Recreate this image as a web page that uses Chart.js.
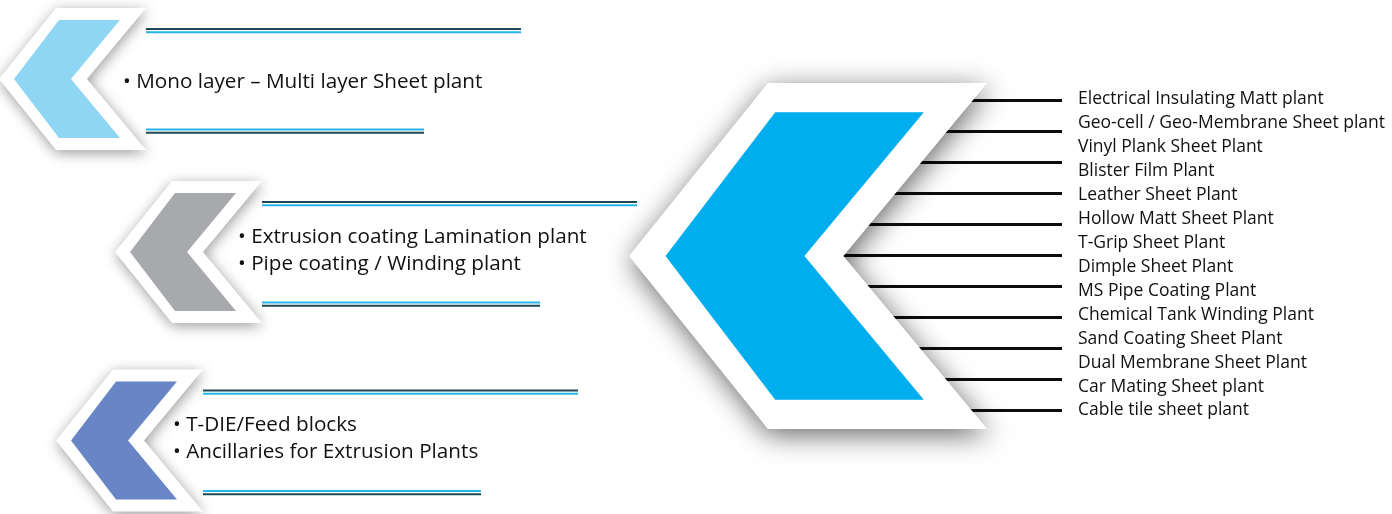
<!DOCTYPE html>
<html>
<head>
<meta charset="utf-8">
<script src="https://cdn.jsdelivr.net/npm/chart.js@4.4.1/dist/chart.umd.min.js"></script>
<style>
  html, body { margin: 0; padding: 0; background: #ffffff; }
  #board { display: block; }
</style>
</head>
<body>
<canvas id="board" width="1392" height="514"></canvas>
<script>
const mainItems = [
  'Electrical Insulating Matt plant',
  'Geo-cell / Geo-Membrane Sheet plant',
  'Vinyl Plank Sheet Plant',
  'Blister Film Plant',
  'Leather Sheet Plant',
  'Hollow Matt Sheet Plant',
  'T-Grip Sheet Plant',
  'Dimple Sheet Plant',
  'MS Pipe Coating Plant',
  'Chemical Tank Winding Plant',
  'Sand Coating Sheet Plant',
  'Dual Membrane Sheet Plant',
  'Car Mating Sheet plant',
  'Cable tile sheet plant'
];
const monoItems = ['Mono layer – Multi layer Sheet plant'];
const coatingItems = ['Extrusion coating Lamination plant', 'Pipe coating / Winding plant'];
const dieItems = ['T-DIE/Feed blocks', 'Ancillaries for Extrusion Plants'];
const connectorCount = 11;

const COLORS = {
  main: '#00aeef',
  mono: '#8fd6f4',
  coating: '#a7a9ac',
  die: '#6886c5',
  frame: '#ffffff',
  rule: '#0d0d0d',
  railDark: '#1f4753',
  railBlue: '#27b4e9',
  text: '#111111'
};

// chevron outlines, in units where the half height is 71
const OUTER = [[0, 0], [57, -71], [147, -71], [88, 0], [147, 71], [57, 71]];
const INNER = [[15, 0], [60, -59], [121, -59], [72, 0], [121, 59], [60, 59]];

const SMALL = [
  { items: monoItems, color: COLORS.mono, left: -1, cy: 79, textX: 124, textY: 3 },
  { items: coatingItems, color: COLORS.coating, left: 115, cy: 252, textX: 123, textY: -15 },
  { items: dieItems, color: COLORS.die, left: 56, cy: 440.5, textX: 117, textY: -15.5 }
];
const BIG = { left: 629, cy: 256, scale: 173 / 71 };
const RULES = { x0: 835, x1: 1062, top: 100.5, bottom: 410.5 };
const LIST = { x: 1078, top: 99.5, bottom: 410.5 };

function outline(shape, left, cy, scale) {
  const pts = shape.map(([dx, dy]) => ({ x: left + dx * scale, y: cy + dy * scale }));
  pts.push(pts[0]);
  return pts;
}

function polygon(points, color, shadow) {
  return {
    type: 'scatter',
    data: points,
    showLine: true,
    fill: 'shape',
    backgroundColor: color,
    borderWidth: 0,
    borderColor: color,
    pointRadius: 0,
    tension: 0,
    shadow
  };
}

function segment(x0, x1, y, color, width) {
  return {
    type: 'scatter',
    data: [{ x: x0, y }, { x: x1, y }],
    showLine: true,
    fill: false,
    borderColor: color,
    borderWidth: width,
    pointRadius: 0,
    borderCapStyle: 'butt'
  };
}

// paint order: first entry lies at the bottom
const layers = [];

for (let i = 0; i < connectorCount; i++) {
  const y = RULES.top + (RULES.bottom - RULES.top) * i / (connectorCount - 1);
  layers.push(segment(RULES.x0, RULES.x1, y, COLORS.rule, 3));
}

SMALL.forEach((g) => {
  const x0 = g.left + 147;
  const top = g.cy - 71;
  const bottom = g.cy + 71;
  layers.push(segment(x0, x0 + 375, top + 21, COLORS.railDark, 2));
  layers.push(segment(x0, x0 + 375, top + 24.3, COLORS.railBlue, 2));
  layers.push(segment(x0, x0 + 278, bottom - 20.5, COLORS.railBlue, 2));
  layers.push(segment(x0, x0 + 278, bottom - 17.2, COLORS.railDark, 2));
});

SMALL.forEach((g) => {
  layers.push(polygon(outline(OUTER, g.left, g.cy, 1), COLORS.frame, { blur: 14, dx: 1, dy: 3, alpha: 0.4 }));
  layers.push(polygon(outline(INNER, g.left, g.cy, 1), g.color, null));
});

layers.push(polygon(outline(OUTER, BIG.left, BIG.cy, BIG.scale), COLORS.frame, { blur: 28, dx: 2, dy: 6, alpha: 0.6 }));
layers.push(polygon(outline(INNER, BIG.left, BIG.cy, BIG.scale), COLORS.main, null));

function clearShadow(ctx) {
  ctx.shadowColor = 'rgba(0,0,0,0)';
  ctx.shadowBlur = 0;
  ctx.shadowOffsetX = 0;
  ctx.shadowOffsetY = 0;
}

function setShadow(chart, meta) {
  const ctx = chart.ctx;
  const ds = meta ? chart.data.datasets[meta.index] : null;
  if (!ds || !ds.shadow) {
    clearShadow(ctx);
    return;
  }
  ctx.shadowColor = `rgba(0,0,0,${ds.shadow.alpha})`;
  ctx.shadowBlur = ds.shadow.blur;
  ctx.shadowOffsetX = ds.shadow.dx;
  ctx.shadowOffsetY = ds.shadow.dy;
}

// the filler paints a shape before our own beforeDatasetDraw runs,
// so the shadow is switched on right after the previous layer
const shadowPlugin = {
  id: 'chevronShadow',
  beforeDatasetsDraw(chart) {
    const metas = chart.getSortedVisibleDatasetMetas();
    setShadow(chart, metas[metas.length - 1]);
  },
  beforeDatasetDraw(chart) {
    clearShadow(chart.ctx);
  },
  afterDatasetDraw(chart, args) {
    const metas = chart.getSortedVisibleDatasetMetas();
    const pos = metas.indexOf(args.meta);
    setShadow(chart, metas[pos - 1]);
  },
  afterDatasetsDraw(chart) {
    clearShadow(chart.ctx);
  }
};

const labelPlugin = {
  id: 'labels',
  afterDatasetsDraw(chart) {
    const { ctx, scales: { x, y } } = chart;
    ctx.save();
    ctx.fillStyle = COLORS.text;
    ctx.textBaseline = 'middle';
    ctx.textAlign = 'left';

    ctx.font = '500 20.7px "Open Sans", sans-serif';
    SMALL.forEach((g) => {
      g.items.forEach((item, i) => {
        ctx.fillText('• ' + item, x.getPixelForValue(g.left + g.textX), y.getPixelForValue(g.cy + g.textY + i * 27.3));
      });
    });

    ctx.font = '500 17.5px "Open Sans", sans-serif';
    mainItems.forEach((item, i) => {
      const v = LIST.top + (LIST.bottom - LIST.top) * i / (mainItems.length - 1);
      ctx.fillText(item, x.getPixelForValue(LIST.x), y.getPixelForValue(v));
    });
    ctx.restore();
  }
};

new Chart(document.getElementById('board'), {
  type: 'scatter',
  data: { datasets: layers.slice().reverse() },
  options: {
    responsive: false,
    animation: false,
    events: [],
    layout: { padding: 0 },
    plugins: { legend: { display: false }, tooltip: { enabled: false } },
    scales: {
      x: { type: 'linear', min: 0, max: 1392, display: false },
      y: { type: 'linear', min: 0, max: 514, reverse: true, display: false }
    }
  },
  plugins: [shadowPlugin, labelPlugin]
});
</script>
</body>
</html>
